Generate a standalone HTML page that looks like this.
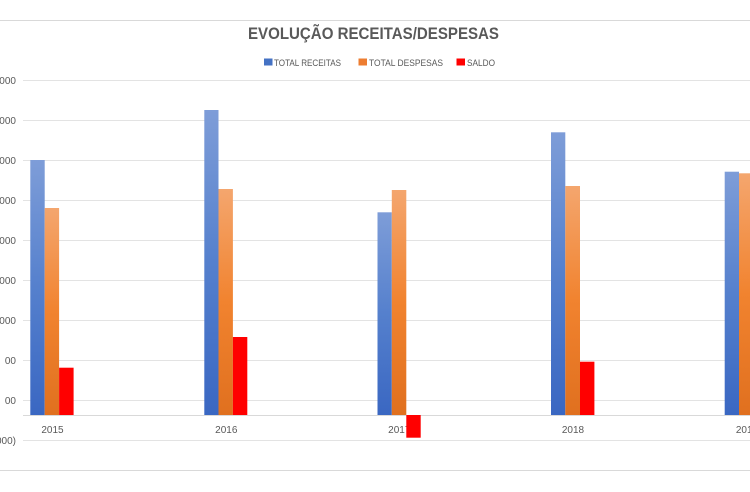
<!DOCTYPE html>
<html>
<head>
<meta charset="utf-8">
<style>
html,body{margin:0;padding:0;background:#fff;}
svg{display:block;}
text{font-family:"Liberation Sans",sans-serif;fill:#595959;}
</style>
</head>
<body>
<svg width="750" height="492" viewBox="0 0 750 492" xmlns="http://www.w3.org/2000/svg">
<defs>
<linearGradient id="gb" x1="0" y1="0" x2="0" y2="1">
<stop offset="0" stop-color="#7e9dd8"/>
<stop offset="0.5" stop-color="#5580cd"/>
<stop offset="1" stop-color="#3a67c2"/>
</linearGradient>
<linearGradient id="go" x1="0" y1="0" x2="0" y2="1">
<stop offset="0" stop-color="#f4a66e"/>
<stop offset="0.5" stop-color="#f1832f"/>
<stop offset="1" stop-color="#e0701f"/>
</linearGradient>
</defs>
<rect width="750" height="492" fill="#fff"/>
<!-- frame lines -->
<line x1="0" y1="20.5" x2="750" y2="20.5" stroke="#d9d9d9" stroke-width="1"/>
<line x1="0" y1="470.5" x2="750" y2="470.5" stroke="#d9d9d9" stroke-width="1"/>
<!-- title -->
<text x="248" y="39" font-size="17" font-weight="bold" textLength="251" lengthAdjust="spacingAndGlyphs">EVOLUÇÃO RECEITAS/DESPESAS</text>
<!-- legend -->
<rect x="264" y="58.5" width="8.5" height="7" fill="#4472c4"/>
<text x="274" y="66" font-size="9.5" textLength="67" lengthAdjust="spacingAndGlyphs">TOTAL RECEITAS</text>
<rect x="358.5" y="58.5" width="8.5" height="7" fill="#ed7d31"/>
<text x="369" y="66" font-size="9.5" textLength="74" lengthAdjust="spacingAndGlyphs">TOTAL DESPESAS</text>
<rect x="456.5" y="58.5" width="8.5" height="7" fill="#ff0000"/>
<text x="467" y="66" font-size="9.5" textLength="28" lengthAdjust="spacingAndGlyphs">SALDO</text>
<!-- gridlines -->
<g stroke="#e3e3e3" stroke-width="1">
<line x1="23" y1="80.5" x2="750" y2="80.5"/>
<line x1="23" y1="120.5" x2="750" y2="120.5"/>
<line x1="23" y1="160.5" x2="750" y2="160.5"/>
<line x1="23" y1="200.5" x2="750" y2="200.5"/>
<line x1="23" y1="240.5" x2="750" y2="240.5"/>
<line x1="23" y1="280.5" x2="750" y2="280.5"/>
<line x1="23" y1="320.5" x2="750" y2="320.5"/>
<line x1="23" y1="360.5" x2="750" y2="360.5"/>
<line x1="23" y1="400.5" x2="750" y2="400.5"/>
<line x1="23" y1="440.5" x2="750" y2="440.5"/>
</g>
<line x1="23" y1="415.5" x2="750" y2="415.5" stroke="#d9d9d9" stroke-width="1"/>
<!-- y labels -->
<g font-size="10" text-anchor="end">
<text x="16" y="84">4.000.000</text>
<text x="16" y="124">3.500.000</text>
<text x="16" y="164">3.000.000</text>
<text x="16" y="204">2.500.000</text>
<text x="16" y="244">2.000.000</text>
<text x="16" y="284">1.500.000</text>
<text x="16" y="324">1.000.000</text>
<text x="16" y="364">00</text>
<text x="16" y="404">00</text>
<text x="16" y="444">(500.000)</text>
</g>
<!-- x labels -->
<g font-size="10" text-anchor="middle">
<text x="52.5" y="433">2015</text>
<text x="226.3" y="433">2016</text>
<text x="399.3" y="433">2017</text>
<text x="573" y="433">2018</text>
<text x="747" y="433">2019</text>
</g>
<!-- bars -->
<!-- 2015 -->
<rect x="30.3" y="160" width="14.4" height="255" fill="url(#gb)"/>
<rect x="44.7" y="208" width="14.4" height="207" fill="url(#go)"/>
<rect x="59.1" y="367.7" width="14.5" height="47.3" fill="#ff0000"/>
<!-- 2016 -->
<rect x="204.3" y="110" width="14.2" height="305" fill="url(#gb)"/>
<rect x="218.5" y="189" width="14.4" height="226" fill="url(#go)"/>
<rect x="232.9" y="337" width="14.4" height="78" fill="#ff0000"/>
<!-- 2017 -->
<rect x="377.5" y="212.3" width="14.3" height="202.7" fill="url(#gb)"/>
<rect x="391.8" y="190" width="14.5" height="225" fill="url(#go)"/>
<rect x="406.3" y="415" width="14.4" height="22.7" fill="#ff0000"/>
<!-- 2018 -->
<rect x="551" y="132.3" width="14.3" height="282.7" fill="url(#gb)"/>
<rect x="565.3" y="186" width="14.7" height="229" fill="url(#go)"/>
<rect x="580" y="361.7" width="14.4" height="53.3" fill="#ff0000"/>
<!-- 2019 -->
<rect x="724.7" y="171.7" width="14.3" height="243.3" fill="url(#gb)"/>
<rect x="739" y="173.3" width="14.4" height="241.7" fill="url(#go)"/>
</svg>
</body>
</html>
